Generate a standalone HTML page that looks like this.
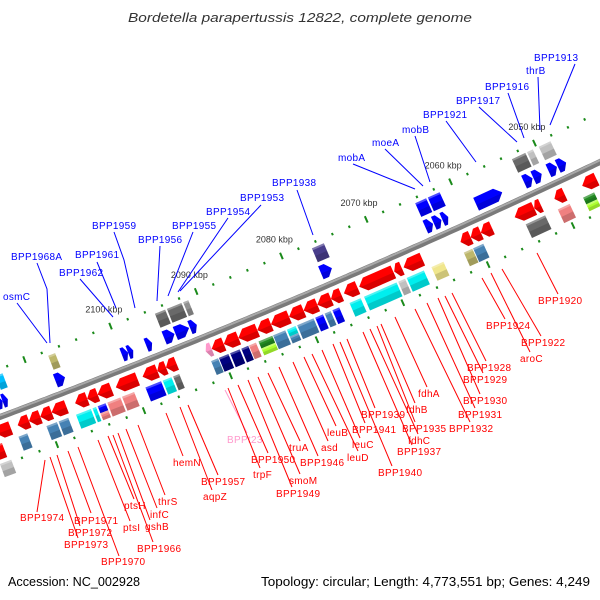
<!DOCTYPE html>
<html><head><meta charset="utf-8"><style>
html,body{margin:0;padding:0;background:#fff;}
svg{display:block;font-family:"Liberation Sans",sans-serif;}
</style></head><body>
<svg id="map" width="600" height="600" viewBox="0 0 600 600" xmlns="http://www.w3.org/2000/svg">
<rect width="600" height="600" fill="#fff"/>
<text x="128" y="22" font-size="13" font-style="italic" fill="#333" textLength="344" lengthAdjust="spacingAndGlyphs">Bordetella parapertussis 12822, complete genome</text>
<g id="ticks"></g>
<g id="backbone"></g>
<g id="feats"></g>
<g id="labels"></g>
<text x="8" y="586" font-size="13" fill="#000" textLength="132" lengthAdjust="spacingAndGlyphs">Accession: NC_002928</text>
<text x="261" y="586" font-size="13" fill="#000" textLength="329" lengthAdjust="spacingAndGlyphs">Topology: circular; Length: 4,773,551 bp; Genes: 4,249</text>
</svg>
<script>
const tickLabels = [2050, 2060, 2070, 2080, 2090, 2100];
const tickRange = [2044, 2118];
const redArrows = [[2115.7,2114.0],[2113.2,2111.9],[2111.9,2110.6],[2110.6,2109.3],[2109.3,2107.6],
[2106.6,2105.2],[2105.2,2104.0],[2104.0,2102.4],[2101.9,2099.4],
[2098.8,2097.1],[2097.1,2096.1],[2096.1,2094.9],
[2090.8,2089.4],[2089.4,2087.7],[2087.7,2085.5],[2085.5,2083.9],[2083.9,2081.8],[2081.8,2080.1],[2080.1,2078.5],[2078.5,2076.9],[2076.9,2075.7],
[2075.4,2073.8],[2073.6,2069.6],[2069.5,2068.6],[2068.4,2066.2],
[2061.7,2060.5],[2060.5,2059.3],[2059.3,2058.0],
[2055.3,2053.0],[2053.0,2052.2],[2050.6,2049.4],[2047.3,2045.6]];
const pinkArrows = [[2091.5,2090.8]];
const blueArrows = [[2114.4,2113.8],[2113.8,2113.2],[2107.7,2106.6],[2100.0,2099.3],[2099.3,2098.7],[2097.2,2096.5],[2095.1,2093.9],[2093.8,2092.2],[2092.1,2091.3],[2076.8,2075.5],[2064.5,2063.6],[2063.5,2062.6],[2062.5,2061.8],[2058.5,2055.4],[2052.8,2051.8],[2051.7,2050.7],[2049.9,2048.9],[2048.8,2047.8]];
const revBoxes = [[2116.5,2115.4,'red'],[2113.6,2112.5,'steel'],[2110.4,2109.1,'steel'],[2109.0,2107.8,'steel'],
[2107.0,2105.2,'cyan'],[2105.1,2104.6,'cyan'],[2104.5,2103.5,'blue','top'],[2104.5,2103.5,'pink','bot'],
[2103.4,2101.8,'pink'],[2101.7,2100.2,'pink'],
[2099.0,2097.1,'blue'],[2097.0,2095.9,'cyan'],[2095.8,2095.0,'dimgrey'],
[2091.4,2090.5,'steel'],[2090.5,2089.3,'navy'],[2089.2,2088.0,'navy'],[2087.9,2087.0,'navy'],[2087.0,2086.1,'pink'],
[2085.9,2084.2,'dkgreen','top'],[2085.9,2084.2,'lime','bot'],[2084.2,2082.7,'steel'],[2082.6,2081.5,'cyan','top'],[2082.6,2081.5,'steel','bot'],
[2081.4,2079.4,'steel'],[2079.3,2078.3,'blue'],[2078.2,2077.4,'steel'],[2077.3,2076.4,'blue'],
[2075.3,2073.9,'cyan'],[2073.6,2069.7,'cyan'],[2069.6,2068.7,'silver'],[2068.6,2066.5,'cyan'],
[2065.7,2064.2,'khaki'],[2061.9,2060.8,'dkkhaki'],[2060.8,2059.5,'steel'],
[2054.6,2052.2,'dimgrey'],[2050.8,2049.3,'pink'],[2047.8,2046.4,'dkgreen','top'],[2047.8,2046.4,'lime','bot']];
const revBoxes2 = [[2116.5,2115.1,'silver']];
const fwdBoxes = [[2113.6,2112.7,'deepcyan'],[2107.5,2106.6,'dkkhaki'],[2095.1,2093.8,'dimgrey'],[2093.7,2091.9,'dimgrey'],[2091.8,2091.1,'grey'],[2076.7,2075.2,'slate'],[2064.5,2063.1,'blue'],[2063.0,2061.5,'blue'],[2053.0,2051.3,'dimgrey'],[2051.2,2050.4,'silver'],[2049.8,2048.3,'silver']];
const upperLabels = [
 ['osmC',3,300,[[17,303],[47,343]]],
 ['BPP1968A',11,260,[[37,263],[47,289],[50,343]]],
 ['BPP1962',59,276,[[80,279],[113,317]]],
 ['BPP1961',75,258,[[97,262],[116,308]]],
 ['BPP1959',92,229,[[114,232],[124,260],[135,308]]],
 ['BPP1956',138,243,[[160,246],[157,301]]],
 ['BPP1955',172,229,[[193,232],[168,296]]],
 ['BPP1954',206,215,[[228,218],[178,292]]],
 ['BPP1953',240,201,[[261,205],[180,291]]],
 ['BPP1938',272,186,[[297,190],[313,235]]],
 ['mobA',338,161,[[353,164],[415,189]]],
 ['moeA',372,146,[[385,149],[423,186]]],
 ['mobB',402,133,[[415,136],[430,182]]],
 ['BPP1921',423,118,[[446,121],[476,162]]],
 ['BPP1917',456,104,[[479,107],[517,142]]],
 ['BPP1916',485,90,[[508,93],[524,138]]],
 ['thrB',526,74,[[538,77],[540,130]]],
 ['BPP1913',534,61,[[575,64],[550,125]]]];
const lowerLabels = [
 ['BPP1974',20,521,[45,460],[37,512]],['BPP1973',64,548,[50,457],[78,538]],['BPP1972',68,536,[57,455],[80,526]],
 ['BPP1971',74,524,[68,451],[91,513]],['BPP1970',101,565,[78,447],[119,556]],['ptsI',123,531,[98,440],[130,521]],
 ['ptsH',124,509,[108,436],[134,499]],['BPP1966',137,552,[113,435],[153,542]],['gshB',145,530,[118,433],[150,520]],
 ['infC',150,518,[126,429],[157,508]],['thrS',158,505,[138,425],[165,495]],['hemN',173,466,[166,413],[183,456]],
 ['aqpZ',203,500,[180,407],[212,490]],['BPP1957',201,485,[188,405],[218,475]],['BPPt23',227,443,[225,390],[247,433],1],
 ['trpF',253,478,[228,388],[260,468]],['BPP1950',251,463,[238,385],[268,453]],['BPP1949',276,497,[248,380],[292,487]],
 ['smoM',289,484,[258,377],[300,474]],['truA',289,451,[268,373],[300,441]],['BPP1946',300,466,[279,367],[318,456]],
 ['asd',321,451,[293,362],[328,441]],['leuB',327,436,[304,357],[336,426]],['leuD',347,461,[312,354],[358,451]],
 ['leuC',352,448,[322,350],[360,438]],['BPP1941',352,433,[333,344],[365,423]],['BPP1940',378,476,[340,342],[392,466]],
 ['BPP1939',361,418,[347,339],[375,408]],['BPP1937',397,455,[363,332],[412,445]],['fdhC',408,444,[370,329],[418,434]],
 ['BPP1935',402,432,[377,326],[415,422]],['fdhB',406,413,[381,324],[415,403]],['fdhA',418,397,[395,317],[427,387]],
 ['BPP1932',449,432,[415,309],[470,422]],['BPP1931',458,418,[427,303],[475,408]],['BPP1930',463,404,[438,298],[480,394]],
 ['BPP1929',463,383,[445,296],[483,373]],['BPP1928',467,371,[452,293],[486,361]],['BPP1924',486,329,[482,278],[505,319]],
 ['aroC',520,362,[491,273],[530,352]],['BPP1922',521,346,[502,269],[541,336]],['BPP1920',538,304,[537,253],[558,294]]];

const COLORS = {red:'#ff0000',steel:'#4682b4',cyan:'#00eeee',navy:'#000080',pink:'#f08080',dkgreen:'#228b22',lime:'#adff2f',
 dimgrey:'#696969',silver:'#c0c0c0',grey:'#909090',khaki:'#f0e68c',dkkhaki:'#bdb76b',blue:'#0000ff',slate:'#483d8b',deepcyan:'#00bfff',pinkarrow:'#ff99cc'};
const NS='http://www.w3.org/2000/svg';
const CX=-2709, CY=-6790, R0=7699.3, A0=67.0, K0=2079.96, DPK=0.06914;
function pt(kbp,v){const a=(A0+(kbp-K0)*DPK)*Math.PI/180;const r=R0+v;return [CX+r*Math.cos(a),CY+r*Math.sin(a)];}
function P(list){return list.map(p=>p[0].toFixed(1)+','+p[1].toFixed(1)).join(' ');}
function mk(tag,attrs,parent){const e=document.createElementNS(NS,tag);for(const k in attrs)e.setAttribute(k,attrs[k]);parent.appendChild(e);return e;}

const gT=document.getElementById('ticks'), gB=document.getElementById('backbone'), gF=document.getElementById('feats'), gL=document.getElementById('labels');

// backbone
const bb=[];for(let k=2125;k>=2035;k-=0.5)bb.push(pt(k,0));
let e=mk('polyline',{points:P(bb),fill:'none',stroke:'#7a7a7a','stroke-width':6},gB);


const bb2=[];for(let k=2125;k>=2035;k-=0.5)bb2.push(pt(k,-1.5));
e=mk('polyline',{points:P(bb2),fill:'none',stroke:'#a8a8a8','stroke-width':2},gB);



// ticks
[-45,46].forEach(v=>{
 for(let k=tickRange[0];k<=tickRange[1];k+=2){
  const major=(k%10===0);const len=major?7:2.5;
  const a=pt(k,v-len/2), b=pt(k,v+len/2);
  const t=mk('line',{x1:a[0],y1:a[1],x2:b[0],y2:b[1],stroke:'#1a8a1a','stroke-width':2},gT);
  
  
 }
});
tickLabels.forEach(k=>{
 const p=pt(k,-63);
 const t=mk('text',{x:p[0],y:p[1]+3,'font-size':9,fill:'#333','text-anchor':'middle'},gT);
 t.textContent=k+' kbp';
 
 
});

function shade(s,e2,v1,v2){
 const vm=v1+(v2-v1)*0.55;
 const o=mk('polygon',{points:P([pt(s,vm),pt(e2,vm),pt(e2,v2),pt(s,v2)]),fill:'#000','fill-opacity':0.15},gF);
 
 
}
function box(s,e2,col,v1,v2,half){
 if(half==='top')v2=(v1+v2)/2; if(half==='bot')v1=(v1+v2)/2;
 const b=mk('polygon',{points:P([pt(s-0.05,v1),pt(e2+0.05,v1),pt(e2+0.05,v2),pt(s-0.05,v2)]),fill:COLORS[col]},gF);
 
 
 const hl=mk('polygon',{points:P([pt(s-0.05,v1),pt(e2+0.05,v1),pt(e2+0.05,v1+2),pt(s-0.05,v1+2)]),fill:'#fff','fill-opacity':0.3},gF);
 
 
 shade(s-0.05,e2+0.05,v1,v2);
}
function arrow(hi,lo,col,v1,v2,headAtHi){
 const len=hi-lo, hl=Math.min(0.75,len*0.5), vm=(v1+v2)/2;
 let pts;
 if(headAtHi) pts=[pt(lo,v1),pt(hi-hl,v1),pt(hi,vm),pt(hi-hl,v2),pt(lo,v2)];
 else pts=[pt(hi,v1),pt(lo+hl,v1),pt(lo,vm),pt(lo+hl,v2),pt(hi,v2)];
 const a=mk('polygon',{points:P(pts),fill:COLORS[col]},gF);
 
 
 const m=v1+(v2-v1)*0.55;
 const sp = headAtHi ? [pt(lo,m),pt(hi-hl,m),pt(hi-hl*0.45,m),pt(hi,vm),pt(hi-hl,v2),pt(lo,v2)]
                     : [pt(hi,m),pt(lo+hl,m),pt(lo+hl*0.45,m),pt(lo,vm),pt(lo+hl,v2),pt(hi,v2)];
 const o=mk('polygon',{points:P(sp),fill:'#000','fill-opacity':0.15},gF);
 
 
}
redArrows.forEach(d=>arrow(d[0],d[1],'red',7,21,true));
pinkArrows.forEach(d=>arrow(d[0],d[1],'pinkarrow',7,21,true));
blueArrows.forEach(d=>arrow(d[0],d[1],'blue',-21,-7,false));
revBoxes.forEach(d=>box(d[0],d[1],d[2],25,40,d[3]));
revBoxes2.forEach(d=>box(d[0],d[1],d[2],44,58,d[3]));
fwdBoxes.forEach(d=>box(d[0],d[1],d[2],-40,-25,d[3]));

// labels
upperLabels.forEach(d=>{
 const l=mk('polyline',{points:P(d[3]),fill:'none',stroke:'#0000ff','stroke-width':1},gL);
 
 
 const t=mk('text',{x:d[1],y:d[2],'font-size':10,fill:'#0000ff','letter-spacing':0.3},gL);
 t.textContent=d[0];
 
 
});
lowerLabels.forEach(d=>{
 const c=d[5]?'#ff99cc':'#ff0000';
 const l=mk('line',{x1:d[3][0],y1:d[3][1],x2:d[4][0],y2:d[4][1],stroke:c,'stroke-width':1},gL);
 
 
 const t=mk('text',{x:d[1],y:d[2],'font-size':10,fill:c,'letter-spacing':0.3},gL);
 t.textContent=d[0];
 
 
});
</script>
</body></html>
